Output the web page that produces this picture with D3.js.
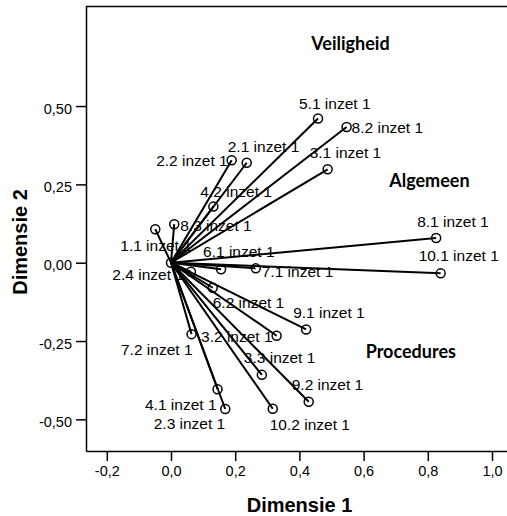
<!DOCTYPE html>
<html>
<head>
<meta charset="utf-8">
<script src="https://cdn.jsdelivr.net/npm/d3@7"></script>
<style>
  body { margin: 0; background: #fff; }
  svg { display: block; font-family: "Liberation Sans", Arial, sans-serif; }
</style>
</head>
<body>
<div id="chart"></div>
<script>
// item names and their loadings on dimension 1 / 2
var items = ['1.1', '2.1', '2.2', '2.3', '2.4', '3.1', '3.2', '3.3', '4.1', '4.2', '5.1',
  '6.1', '6.2', '7.1', '7.2', '8.1', '8.2', '8.3', '9.1', '9.2', '10.1', '10.2']
var dim1 = [-0.049, 0.236, 0.189, 0.169, 0.062, 0.488, 0.329, 0.283, 0.145, 0.132, 0.458,
  0.156, 0.130, 0.264, 0.064, 0.826, 0.547, 0.010, 0.421, 0.429, 0.840, 0.317]
var dim2 = [0.107, 0.319, 0.327, -0.467, -0.029, 0.298, -0.233, -0.358, -0.404, 0.179, 0.460,
  -0.021, -0.080, -0.018, -0.228, 0.079, 0.433, 0.123, -0.213, -0.444, -0.034, -0.466]

var xTicks = [-0.2, 0.0, 0.2, 0.4, 0.6, 0.8, 1.0]
var yTicks = [-0.50, -0.25, 0.00, 0.25, 0.50]

// group names, placed in data space
var groups = ['Veiligheid', 'Algemeen', 'Procedures']
var groupX = [0.559, 0.805, 0.747]
var groupY = [0.679, 0.242, -0.304]

var width = 507
var height = 516
var plot = { left: 86, top: 6, right: 507, bottom: 451 }

// where each label sits relative to its point: [dx, dy, anchor]
var labelPos = {
  '1.1': [-35, 22, 'start'], '2.1': [-19, -11, 'start'], '2.2': [-4, 6, 'end'],
  '2.3': [0, 20, 'end'], '2.4': [-7, 8, 'end'], '3.1': [-18, -11, 'start'],
  '3.2': [-4, 6, 'end'], '3.3': [-18, -12, 'start'], '4.1': [-1, 21, 'end'],
  '4.2': [-13, -10, 'start'], '5.1': [-19, -10, 'start'], '6.1': [-18, -12, 'start'],
  '6.2': [0, 20, 'start'], '7.1': [6, 9, 'start'], '7.2': [1, 21, 'end'],
  '8.1': [-19, -11, 'start'], '8.2': [5, 6, 'start'], '8.3': [6, 7, 'start'],
  '9.1': [-13, -11, 'start'], '9.2': [-17, -12, 'start'], '10.1': [-22, -12, 'start'],
  '10.2': [-3, 21, 'start']
}

var data = items.map(function(d, i) {
  return { name: d, x: dim1[i], y: dim2[i] }
})

var svg = d3.select('#chart')
  .append('svg')
  .attr('width', width)
  .attr('height', height)

var x0 = 171, y0 = 262.7, xPer = 321, yPer = 313.3
var xScale = d3.scaleLinear()
  .domain([(plot.left - x0) / xPer, (plot.right - x0) / xPer])
  .range([plot.left, plot.right])
var yScale = d3.scaleLinear()
  .domain([(y0 - plot.bottom) / yPer, (y0 - plot.top) / yPer])
  .range([plot.bottom, plot.top])

var comma = function(f) {
  return function(d) { return d3.format(f)(d).replace('.', ',').replace('−', '-') }
}

// point labels first, the vectors are drawn over them
svg.selectAll('.lbl')
  .data(data)
  .enter()
  .append('text')
  .attr('class', 'lbl')
  .attr('x', d => xScale(d.x) + labelPos[d.name][0])
  .attr('y', d => yScale(d.y) + labelPos[d.name][1])
  .attr('text-anchor', d => labelPos[d.name][2])
  .style('font-size', '15.5px')
  .style('fill', '#000')
  .text(d => d.name + ' inzet 1')

svg.selectAll('.grp')
  .data(groups)
  .enter()
  .append('text')
  .attr('class', 'grp')
  .attr('x', (d, i) => xScale(groupX[i]))
  .attr('y', (d, i) => yScale(groupY[i]))
  .attr('text-anchor', 'middle')
  .style('font-family', 'Lato, "Open Sans", sans-serif')
  .style('font-weight', 'bold')
  .style('font-size', '18px')
  .text(d => d)

// vectors from the origin
svg.selectAll('.vec')
  .data(data)
  .enter()
  .append('line')
  .attr('class', 'vec')
  .attr('x1', xScale(0))
  .attr('y1', yScale(0))
  .attr('x2', d => xScale(d.x))
  .attr('y2', d => yScale(d.y))
  .style('stroke', '#000')
  .style('stroke-width', 2)

svg.selectAll('.pt')
  .data(data)
  .enter()
  .append('circle')
  .attr('class', 'pt')
  .attr('cx', d => xScale(d.x))
  .attr('cy', d => yScale(d.y))
  .attr('r', 4.5)
  .style('fill', 'none')
  .style('stroke', '#000')
  .style('stroke-width', 1.5)

svg.append('circle')
  .attr('cx', xScale(0))
  .attr('cy', yScale(0))
  .attr('r', 4.5)
  .style('fill', 'none')
  .style('stroke', '#000')
  .style('stroke-width', 1.5)

// frame top
svg.append('line')
  .attr('x1', plot.left).attr('x2', plot.right)
  .attr('y1', plot.top + 0.5).attr('y2', plot.top + 0.5)
  .style('stroke', '#000')
  .style('stroke-width', 1.5)

// axes
var xAxis = d3.axisBottom(xScale)
  .tickValues(xTicks)
  .tickFormat(comma('.1f'))
  .tickSizeInner(10)
  .tickSizeOuter(0)
  .tickPadding(5)

svg.append('g')
  .attr('transform', `translate(0,${plot.bottom})`)
  .attr('class', 'x-axis')
  .call(xAxis)
  .call(g => g.selectAll('line, path').style('stroke', '#000').style('stroke-width', 1.5))
  .selectAll('text')
  .style('font-size', '14.5px')
  .style('font-family', '"Liberation Sans", Arial, sans-serif')
  .style('fill', '#000')

var yAxis = d3.axisLeft(yScale)
  .tickValues(yTicks)
  .tickFormat(comma('.2f'))
  .tickSizeInner(10)
  .tickSizeOuter(0)
  .tickPadding(4)

svg.append('g')
  .attr('transform', `translate(${plot.left},0)`)
  .attr('class', 'y-axis')
  .call(yAxis)
  .call(g => g.selectAll('line, path').style('stroke', '#000').style('stroke-width', 1.5))
  .selectAll('text')
  .attr('dy', '0.5em')
  .style('font-size', '14.5px')
  .style('font-family', '"Liberation Sans", Arial, sans-serif')
  .style('fill', '#000')

// axis titles
svg.append('text')
  .attr('x', 299.5)
  .attr('y', 512)
  .attr('text-anchor', 'middle')
  .style('font-weight', 'bold')
  .style('font-size', '20px')
  .text('Dimensie 1')

svg.append('text')
  .attr('transform', 'translate(27,242) rotate(-90)')
  .attr('text-anchor', 'middle')
  .style('font-weight', 'bold')
  .style('font-size', '20px')
  .text('Dimensie 2')
</script>
</body>
</html>
